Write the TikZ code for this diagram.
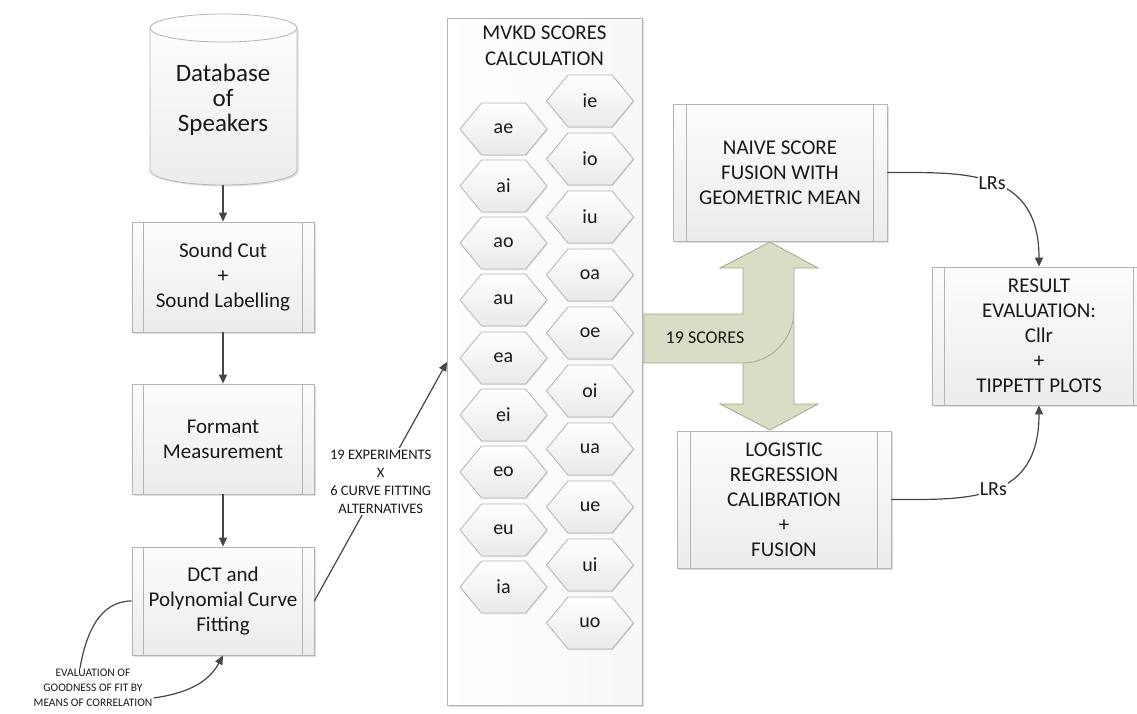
\documentclass[tikz,border=0pt]{standalone}
\usepackage{fontspec}
\setmainfont{Carlito}
\usetikzlibrary{arrows.meta,shadows}
\definecolor{txt}{RGB}{25,25,25}
\definecolor{edgec}{RGB}{180,180,180}
\definecolor{connc}{RGB}{70,70,70}
\definecolor{gfill}{RGB}{216,222,198}
\definecolor{gedge}{RGB}{160,168,140}
\tikzset{
  boxfont/.style={font=\fontsize{21}{25}\selectfont},
  softshadow/.style={drop shadow={shadow xshift=1.5pt,shadow yshift=-1.5pt,opacity=0.25,fill=gray}},
  procbox/.style={draw=edgec, line width=0.8pt, top color=gray!2, bottom color=gray!15,
    align=center, text=txt, boxfont, inner sep=0pt, softshadow},
  innerline/.style={draw=edgec, line width=0.8pt},
  dbshape/.style={draw=edgec, line width=0.8pt, top color=white, bottom color=gray!15, softshadow},
  dbtext/.style={align=center, text=txt, font=\fontsize{25}{25}\selectfont, inner sep=0pt,
    minimum width=147pt, minimum height=170pt},
  mvbox/.style={draw=edgec, line width=0.8pt, left color=white, right color=gray!6, inner sep=0pt, softshadow},
  titletext/.style={align=center, text=txt, font=\fontsize{21}{26}\selectfont, inner sep=0pt},
  hexshape/.style={draw=edgec, line width=0.8pt, top color=white, bottom color=gray!17,
    drop shadow={shadow xshift=1pt,shadow yshift=-1pt,opacity=0.2,fill=gray}},
  hexlabel/.style={text=txt, font=\fontsize{20}{24}\selectfont, inner sep=0pt},
  conn/.style={draw=connc, line width=1.2pt, -{Triangle[length=9pt,width=8pt]}},
  connplain/.style={draw=connc, line width=1.2pt},
  smalllbl/.style={fill=white, align=center, text=txt, font=\fontsize{14.5}{18}\selectfont, inner sep=2pt},
  evaltext/.style={align=center, text=txt, font=\fontsize{11.5}{15}\selectfont, inner sep=1pt},
  lrlbl/.style={fill=white, text=txt, font=\fontsize{20}{24}\selectfont, inner sep=1pt},
  greenarrow/.style={fill=gfill, draw=gedge, line width=0.8pt},
  greentext/.style={text=txt, font=\fontsize{18}{22}\selectfont, inner sep=0pt}
}
\newcommand\sublines[2]{%
  \draw[innerline] ([xshift=#2]#1.north west) -- ([xshift=#2]#1.south west)
                   ([xshift=-#2]#1.north east) -- ([xshift=-#2]#1.south east);}
\newcommand\hexnode[4]{%
  \path[hexshape] ({#2-43.5},{-#3}) -- ({#2-22},{-#3+26}) -- ({#2+22},{-#3+26})
    -- ({#2+43.5},{-#3}) -- ({#2+22},{-#3-26}) -- ({#2-22},{-#3-26}) -- cycle;
  \node[hexlabel] (#1) at (#2,-#3) {#4};}
\begin{document}
\begin{tikzpicture}[x=1pt,y=1pt]
\useasboundingbox (0,0) rectangle (1137,-713);

% Database
\path[dbshape] (150,-28) -- (150,-170) arc[start angle=180,end angle=360,x radius=73.5,y radius=15]
  -- (297,-28) arc[start angle=0,end angle=180,x radius=73.5,y radius=14] -- cycle;
\draw[innerline] (150,-28) arc[start angle=180,end angle=360,x radius=73.5,y radius=14];
\node[dbtext] (db) at (223,-100) {Database\\of\\Speakers};

% left column boxes
\node[procbox, minimum width=182pt, minimum height=110pt] (sc) at (223,-277) {Sound Cut\\+\\Sound Labelling};
\sublines{sc}{12pt}
\node[procbox, minimum width=182pt, minimum height=110pt] (fm) at (223,-439) {Formant\\Measurement};
\sublines{fm}{12pt}
\node[procbox, minimum width=182pt, minimum height=108pt] (dct) at (223,-601) {DCT and\\Polynomial Curve\\Fitting};
\sublines{dct}{12pt}

\draw[conn] (db.south) -- (sc.north);
\draw[conn] (sc.south) -- (fm.north);
\draw[conn] (fm.south) -- (dct.north);

% evaluation feedback
\node[evaltext] (ev) at (93,-688) {EVALUATION OF\\GOODNESS OF FIT BY\\MEANS OF CORRELATION};
\draw[connplain] (dct.west) to[out=180,in=80] ([xshift=-13pt]ev.north);
\draw[conn] ([yshift=-10pt]ev.east) to[out=8,in=-118] (dct.south);

% MVKD box
\node[mvbox, minimum width=195pt, minimum height=687pt] (mv) at (544.5,-361.5) {};
\node[titletext] (mvt) at (544.5,-46) {MVKD SCORES\\CALCULATION};
\hexnode{ae}{503.5}{129}{ae}
\hexnode{ai}{503.5}{186}{ai}
\hexnode{ao}{503.5}{243}{ao}
\hexnode{au}{503.5}{300}{au}
\hexnode{ea}{503.5}{358}{ea}
\hexnode{ei}{503.5}{415}{ei}
\hexnode{eo}{503.5}{472}{eo}
\hexnode{eu}{503.5}{530}{eu}
\hexnode{ia}{503.5}{587}{ia}
\hexnode{ie}{590}{101}{ie}
\hexnode{io}{590}{159}{io}
\hexnode{iu}{590}{217}{iu}
\hexnode{oa}{590}{275}{oa}
\hexnode{oe}{590}{333}{oe}
\hexnode{oi}{590}{391}{oi}
\hexnode{ua}{590}{449}{ua}
\hexnode{ue}{590}{507}{ue}
\hexnode{ui}{590}{565}{ui}
\hexnode{uo}{590}{623}{uo}

\coordinate (mvin) at (447,-362);
\draw[conn] (dct.east) -- node[smalllbl] (exl) {19 EXPERIMENTS\\X\\6 CURVE FITTING\\ALTERNATIVES} (mvin);

% right boxes
\node[procbox, minimum width=214pt, minimum height=137pt] (nv) at (780,-172.5) {NAIVE SCORE\\FUSION WITH\\GEOMETRIC MEAN};
\sublines{nv}{14pt}
\node[procbox, minimum width=214pt, minimum height=137pt] (lg) at (784,-499.5) {LOGISTIC\\REGRESSION\\CALIBRATION\\+\\FUSION};
\sublines{lg}{14pt}
\node[procbox, minimum width=214pt, minimum height=138pt] (rs) at (1039,-336) {RESULT\\EVALUATION:\\Cllr\\+\\TIPPETT PLOTS};
\sublines{rs}{13pt}

% green split arrow
\path[greenarrow] (743,-320) -- (743,-404) -- (720,-404) -- (770,-430) -- (818,-404) -- (794,-404) -- (794,-320) -- cycle;
\path[greenarrow] (644,-314) -- (743,-314) -- (743,-268) -- (720,-268) -- (770,-242) -- (818,-268) -- (794,-268)
  -- (794,-310) .. controls (794,-339) and (771,-363) .. (743,-363) -- (644,-363) -- cycle;
\node[greentext] (sc19) at (705,-338) {19 SCORES};

% LR connectors
\draw[conn] (nv.east) .. controls +(77,0) and +(0,98) .. node[lrlbl,pos=0.5] (lr1) {LRs} (rs.north);
\draw[conn] (lg.east) .. controls +(75,0) and +(0,-98) .. node[lrlbl,pos=0.5] (lr2) {LRs} (rs.south);
\end{tikzpicture}
\end{document}
